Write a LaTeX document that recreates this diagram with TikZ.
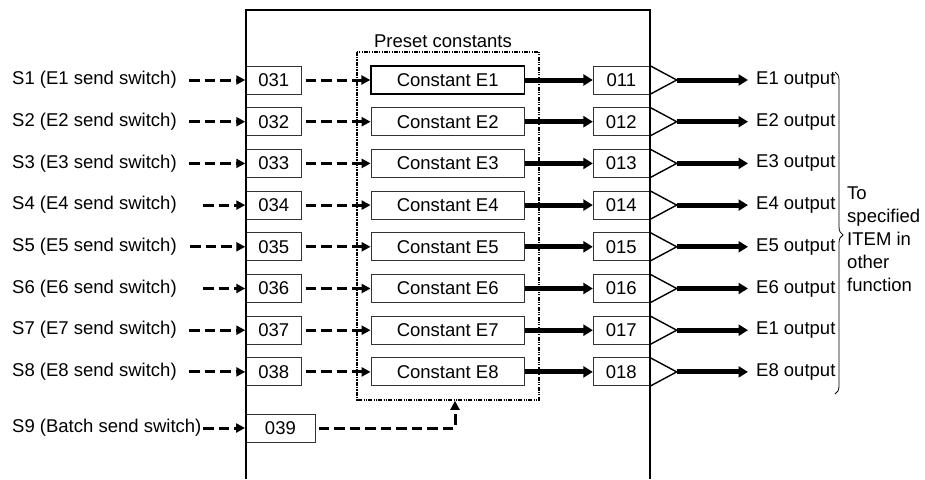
\documentclass[tikz,border=0pt]{standalone}
\usepackage{fontspec}
\setmainfont{Liberation Sans}
\usetikzlibrary{arrows.meta,decorations.pathreplacing}
\begin{document}
\begin{tikzpicture}[x=1pt,y=-1pt,
  every node/.style={font=\fontsize{18.5}{20}\selectfont},
  regbox/.style={draw=black!80, line width=0.9pt, minimum width=56pt, minimum height=28pt, inner sep=0pt},
  constbox/.style={draw=black!80, line width=0.9pt, minimum width=153.3pt, minimum height=28pt, inner sep=0pt},
  firstbox/.style={draw=black, line width=1.4pt},
  lbl/.style={anchor=west, inner sep=0pt},
  dasharrow/.style={line width=3pt, dash pattern=on 10.5pt off 5pt, -{Triangle[length=9pt,width=9pt]}},
  thickarrow/.style={line width=5pt, -{Triangle[length=9.5pt,width=11pt]}},
  presetline/.style={line width=1.6pt, dash pattern=on 4pt off 1.2pt on 1.2pt off 1.2pt on 1.2pt off 1.2pt},
  tri/.style={line width=1.4pt}
]
\useasboundingbox (0,0) rectangle (925,479);

% preset constants dashed box
\draw[presetline] (356.7,51.7) rectangle (539,400);
\node[inner sep=0pt] (ptitle) at (443,41.5) {Preset constants};

\foreach \i/\st/\outl in {1/189/E1,2/189/E2,3/189/E3,4/203/E4,5/190/E5,6/203/E6,7/189/E1,8/189/E8}{
  \pgfmathsetmacro{\yy}{80+41.7*(\i-1)}
  \ifnum\i=1 \def\cstyle{firstbox}\else\def\cstyle{}\fi
  \node[lbl] (s\i) at (12,\yy) {S\i\ (E\i\ send switch)};
  \node[regbox] (in\i) at (273.7,\yy) {03\i};
  \node[constbox, \cstyle] (c\i) at (447.7,\yy) {Constant E\i};
  \node[regbox] (out\i) at (621.3,\yy) {01\i};
  \coordinate (ap\i) at (676.7,\yy);
  \coordinate (ds\i) at (\st,\yy);
  \node[lbl] (ol\i) at (756,\yy) {\outl\ output};
  \draw[dasharrow] (ds\i) -- (in\i.west);
  \draw[dasharrow] ([xshift=3.5pt]in\i.east) -- (c\i.west);
  \draw[thickarrow] (c\i.east) -- (out\i.west);
  \draw[tri] (out\i.north east) -- (ap\i) -- (out\i.south east);
  \draw[thickarrow] (ap\i) -- ([xshift=-8pt]ol\i.west);
}

% S9 batch
\node[lbl] (s9) at (12,428) {S9 (Batch send switch)};
\node[regbox, minimum width=69.8pt] (in9) at (280.4,428) {039};
\coordinate (ds9) at (203,428);
\coordinate (pb) at (455,400.8);
\draw[dasharrow] (ds9) -- (in9.west);
\draw[dasharrow] ([xshift=3pt]in9.east) -- (455,428) -- (pb);

% main frame
\draw[line width=2pt] (245.5,479) -- (245.5,10) -- (650,10) -- (650,479);

% brace and text
\draw[line width=0.8pt, decorate, decoration={brace, amplitude=8pt, aspect=0.506}] (835,72) -- (835,394);
\node[anchor=west, inner sep=0pt, align=left, font=\fontsize{18.5}{23}\selectfont] (dest) at (847,239) {To\\specified\\ITEM in\\other\\function};
\end{tikzpicture}
\end{document}
